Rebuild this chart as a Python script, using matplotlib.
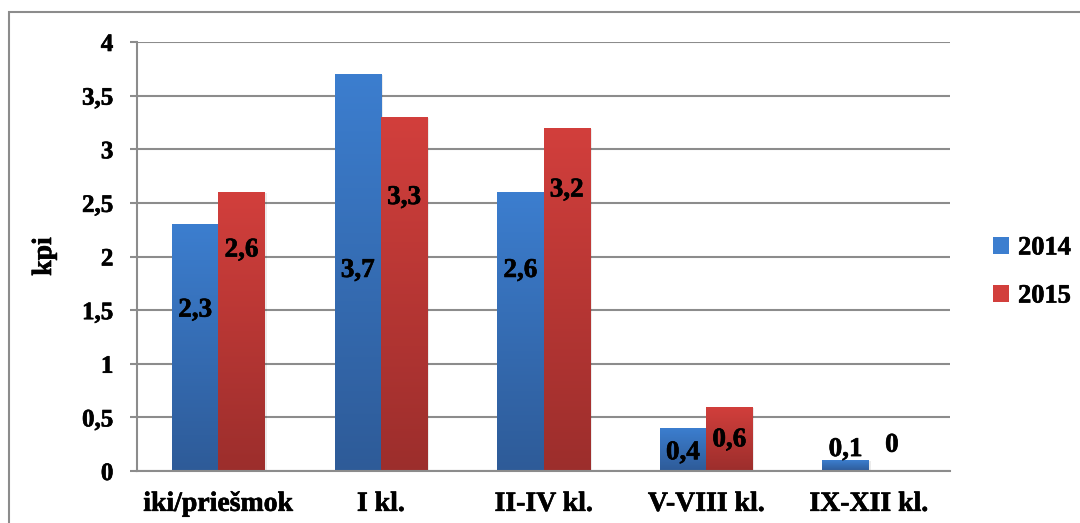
import numpy as np
import matplotlib.pyplot as plt
import matplotlib.patheffects as pe
from matplotlib.colors import LinearSegmentedColormap
from matplotlib.patches import Rectangle, Patch

kategorijos = ["iki/priešmok", "I kl.", "II-IV kl.", "V-VIII kl.", "IX-XII kl."]
metai = ["2014", "2015"]
reiksmes_2014 = [2.3, 3.7, 2.6, 0.4, 0.1]
reiksmes_2015 = [2.6, 3.3, 3.2, 0.6, 0.0]

# aukstis, kuriame rasomos reiksmes ant stulpeliu
etikeciu_y_2014 = [1.50, 1.87, 1.87, 0.17, 0.20]
etikeciu_y_2015 = [2.06, 2.55, 2.62, 0.29, 0.24]

spalvos = {
    "2014": ("#3c7ecf", "#2e5b98"),
    "2015": ("#d23f3c", "#9c2e2c"),
}

plt.rcParams['font.family'] = ['Liberation Serif', 'DejaVu Serif']
plt.rcParams['font.weight'] = 'bold'
storis = [pe.withStroke(linewidth=0.45, foreground="black")]

fig = plt.figure(figsize=(10.8, 5.23), dpi=100)
ax = fig.add_axes([137/1080, 1 - 471/523, (950-137)/1080, (471-42)/523])

# remelis aplink diagrama
fig.patches.append(Rectangle((9/1080, -0.05), 1.1, 1 - 12/523 + 0.05,
                             transform=fig.transFigure, fill=False,
                             edgecolor="#8c8c8c", linewidth=1.5, zorder=0))

x = np.arange(len(kategorijos))
plotis = 0.285
grad = np.linspace(1, 0, 256).reshape(-1, 1)

for serija, vals, ety, poslinkis in [
        ("2014", reiksmes_2014, etikeciu_y_2014, -plotis / 2),
        ("2015", reiksmes_2015, etikeciu_y_2015, plotis / 2)]:
    virsus, apacia = spalvos[serija]
    cmap = LinearSegmentedColormap.from_list(serija, [apacia, virsus])
    bars = ax.bar(x + poslinkis, vals, plotis, color=virsus, label=serija, zorder=2)
    for b in bars:
        bx, bw, bh = b.get_x(), b.get_width(), b.get_height()
        if bh <= 0:
            continue
        # seselis desineje
        ax.add_patch(Rectangle((bx + 0.012, 0), bw, bh - 0.01,
                               color="#000000", alpha=0.08, zorder=1.5, linewidth=0))
        im = ax.imshow(grad, cmap=cmap, aspect="auto", zorder=2.1,
                       extent=[bx, bx + bw, 0, bh], origin="upper")
        im.set_clip_path(b)
    for xi, v, yy in zip(x + poslinkis, vals, ety):
        ax.text(xi, yy, f"{v:g}".replace(".", ","), ha="center", va="center",
                fontsize=19.5, fontweight="bold", zorder=3, path_effects=storis)

ax.set_xlim(-0.5, len(kategorijos) - 0.5)
ax.set_ylim(0, 4)
ax.set_yticks(np.arange(0, 4.01, 0.5))
ax.set_yticklabels([f"{t:g}".replace(".", ",") for t in np.arange(0, 4.01, 0.5)])
ax.set_xticks(x)
ax.set_xticklabels(kategorijos)
ax.tick_params(axis="y", length=5, width=1.5, color="#8c8c8c", labelsize=18, pad=12)
ax.tick_params(axis="x", length=0, labelsize=20, pad=15)
for t in ax.get_xticklabels() + ax.get_yticklabels():
    t.set_path_effects(storis)
ax.yaxis.grid(True, color="#8c8c8c", linewidth=1.5, zorder=0)
ax.set_axisbelow(True)
for s in ["top", "right"]:
    ax.spines[s].set_visible(False)
for s in ["left", "bottom"]:
    ax.spines[s].set_color("#8c8c8c")
    ax.spines[s].set_linewidth(1.5)

ax.set_ylabel("kpi", fontsize=20, fontweight="bold", labelpad=18, path_effects=storis)

rankenos = [Patch(facecolor=spalvos[m][0], edgecolor="none") for m in metai]
leg = fig.legend(rankenos, metai, loc="center left",
                 bbox_to_anchor=(993/1080, 1 - 272/523), borderpad=0, borderaxespad=0,
                 frameon=False, fontsize=19, handlelength=0.6, handleheight=0.6,
                 handletextpad=0.35, labelspacing=0.95)
for t in leg.get_texts():
    t.set_path_effects(storis)

fig.savefig("out.png", dpi=100)
